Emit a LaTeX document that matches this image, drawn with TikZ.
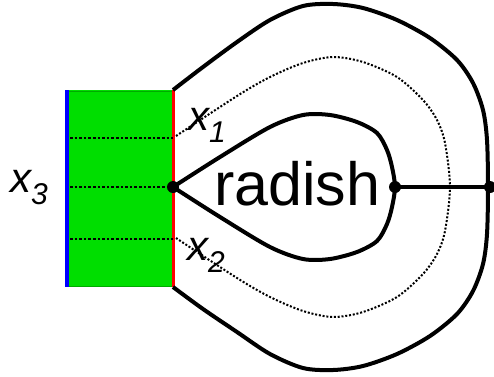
\documentclass[tikz,border=0pt]{standalone}
\usepackage{fontspec}
\setmainfont{Liberation Sans}
\definecolor{grn}{RGB}{0,222,0}
\definecolor{dgrn}{RGB}{0,170,0}
\definecolor{bl}{RGB}{0,0,255}
\definecolor{rd}{RGB}{255,0,0}
\tikzset{
  dotnode/.style={circle,fill=black,inner sep=0pt,minimum size=12pt},
  thick curve/.style={line width=4pt,line join=round},
  thin dotted/.style={line width=2pt,dash pattern=on 2pt off 1.8pt},
  rect dotted/.style={line width=2.6pt,dash pattern=on 2.6pt off 2pt},
  lab/.style={anchor=base west,inner sep=0pt},
}
\newcommand{\bigx}[1]{{\fontsize{42}{42}\selectfont\itshape x\raisebox{-12pt}{\fontsize{30}{30}\selectfont #1}}}
\begin{document}
\begin{tikzpicture}[x=1pt,y=-1pt]
\useasboundingbox (0,0) rectangle (494,376);
% green band
\fill[grn] (66,90) rectangle (174,287);
\draw[dgrn,line width=0.8pt] (66,91) -- (174,91) (66,286) -- (174,286);
\draw[bl,line width=3.8pt] (67,90) -- (67,287);
\draw[rd,line width=3.8pt] (173.5,90) -- (173.5,287);
\draw[rect dotted] (70,138) -- (173,138);
\draw[rect dotted] (70,187) -- (173,187);
\draw[rect dotted] (70,239) -- (173,239);
% nodes
\node[dotnode] (c) at (173,187) {};
\node[dotnode] (r) at (395,187) {};
\node[dotnode] (e) at (490,187) {};
\coordinate (ot) at (173,90);
\coordinate (ob) at (173,287);
\coordinate (dt) at (176,136);
\coordinate (db) at (176,238);
% outer curve
\draw[thick curve] plot[smooth,tension=0.5] coordinates {(ot) (203,67) (237,42) (270,20) (303,6) (333,4) (363,8) (397,20) (430,38) (457,60) (473,83) (483,110) (487,140) (488,187) (487,234) (483,264) (473,291) (457,314) (430,336) (397,354) (363,366) (333,370) (303,368) (270,354) (237,332) (203,309) (ob)};
% dotted curve
\draw[thin dotted] plot[smooth,tension=0.5] coordinates {(dt) (237,96) (270,77) (303,63) (333,57) (363,62) (397,77) (423,100) (437,120) (445,143) (450,187) (445,231) (437,254) (423,274) (397,297) (363,312) (333,317) (303,311) (270,297) (237,278) (db)};
% inner curve
\draw[thick curve] plot[smooth,tension=0.5] coordinates {(c.center) (220,157) (270,127) (303,115) (330,115) (357,122) (377,133) (387,150) (392,167) (r.center) (392,207) (387,224) (377,241) (357,252) (330,259) (303,259) (270,247) (220,217) (c.center)};
\draw[thick curve] (r.center) -- (e.center);
% labels
\node[lab] (rad) at (214,205) {\fontsize{61}{61}\selectfont radish};
\node[lab] (x1) at (188,130) {\bigx{1}};
\node[lab] (x2) at (187,260) {\bigx{2}};
\node[lab] (x3) at (10,192) {\bigx{3}};
\end{tikzpicture}
\end{document}
